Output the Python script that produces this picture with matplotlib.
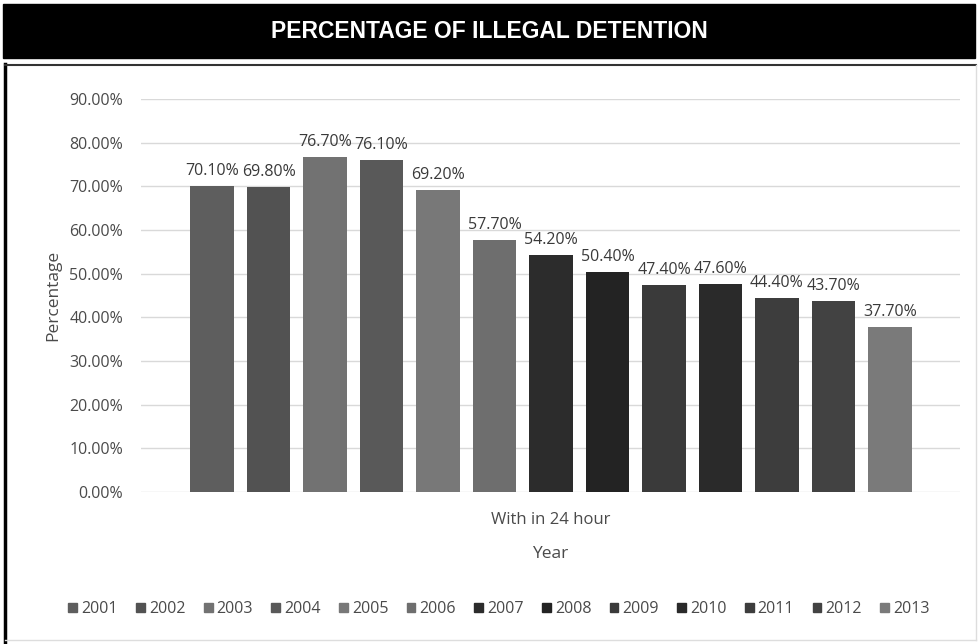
import matplotlib.pyplot as plt
from matplotlib import font_manager
from matplotlib.patches import Rectangle
from matplotlib.lines import Line2D

YEARS = ['2001', '2002', '2003', '2004', '2005', '2006', '2007',
         '2008', '2009', '2010', '2011', '2012', '2013']
PERCENT = [70.1, 69.8, 76.7, 76.1, 69.2, 57.7, 54.2, 50.4, 47.4, 47.6, 44.4, 43.7, 37.7]
COLORS = ['#5e5e5e', '#525252', '#727272', '#595959', '#787878', '#6e6e6e', '#2c2c2c',
          '#232323', '#3a3a3a', '#2a2a2a', '#3d3d3d', '#424242', '#7a7a7a']
Y_TICKS = [0, 10, 20, 30, 40, 50, 60, 70, 80, 90]

plt.rcParams['font.family'] = ['Open Sans', 'DejaVu Sans']
TXT = '#4a4a4a'

# narrow font for the header if the system has one
names = {f.name for f in font_manager.fontManager.ttflist}
if 'Liberation Sans Narrow' in names:
    title_family, title_size = 'Liberation Sans Narrow', 20
else:
    title_family, title_size = 'Liberation Sans', 16.5

fig = plt.figure(figsize=(9.79, 6.44), dpi=100)

# black title bar
fig.patches.append(Rectangle((3 / 979, 1 - 58 / 644), 972 / 979, 54 / 644,
                             transform=fig.transFigure, color='black', zorder=0))
fig.text(0.5, 1 - 32 / 644, 'PERCENTAGE OF ILLEGAL DETENTION', color='white',
         ha='center', va='center', fontsize=title_size, fontweight='bold',
         family=title_family)

# chart frame
fig.lines.append(Line2D([5 / 979, 5 / 979], [0, 1 - 64 / 644], transform=fig.transFigure,
                        color='black', lw=2.5))
fig.lines.append(Line2D([5 / 979, 976 / 979], [1 - 65 / 644, 1 - 65 / 644],
                        transform=fig.transFigure, color='#333333', lw=1.5))
fig.lines.append(Line2D([976 / 979, 976 / 979], [4 / 644, 1 - 65 / 644],
                        transform=fig.transFigure, color='#dddddd', lw=1))
fig.lines.append(Line2D([5 / 979, 976 / 979], [4 / 644, 4 / 644],
                        transform=fig.transFigure, color='#dddddd', lw=1))

ax = fig.add_axes([141 / 979, 1 - 492 / 644, 819 / 979, 393 / 644])
x = list(range(len(YEARS)))
ax.bar(x, PERCENT, width=0.77, color=COLORS, zorder=3)
for xi, v in zip(x, PERCENT):
    ax.text(xi, v + 1.6, f'{v:.2f}%', ha='center', va='bottom', fontsize=11.5, color='#3a3a3a')

ax.set_xlim(-1.26, 13.24)
ax.set_ylim(0, 90)
ax.set_yticks(Y_TICKS)
ax.set_yticklabels([f'{t:.2f}%' for t in Y_TICKS], fontsize=11.5, color=TXT)
ax.set_xticks([])
ax.grid(axis='y', color='#d9d9d9', lw=1, zorder=0)
for s in ax.spines.values():
    s.set_visible(False)
ax.tick_params(axis='y', length=0, pad=13)

ax.text(0.5, -0.07, 'With in 24 hour', transform=ax.transAxes, ha='center', va='center',
        fontsize=12, color=TXT)
ax.set_xlabel('Year', fontsize=12.5, color=TXT, labelpad=39)
ax.set_ylabel('Percentage', fontsize=12.5, color=TXT, labelpad=6)

handles = [Rectangle((0, 0), 1, 1, color=c) for c in COLORS]
fig.legend(handles, YEARS, loc='center', bbox_to_anchor=(499 / 979, 1 - 609 / 644), ncol=13,
           frameon=False, fontsize=11.5, handlelength=0.55, handleheight=0.55,
           handletextpad=0.25, columnspacing=1.15, labelcolor=TXT)

fig.savefig('out.png', dpi=100)
